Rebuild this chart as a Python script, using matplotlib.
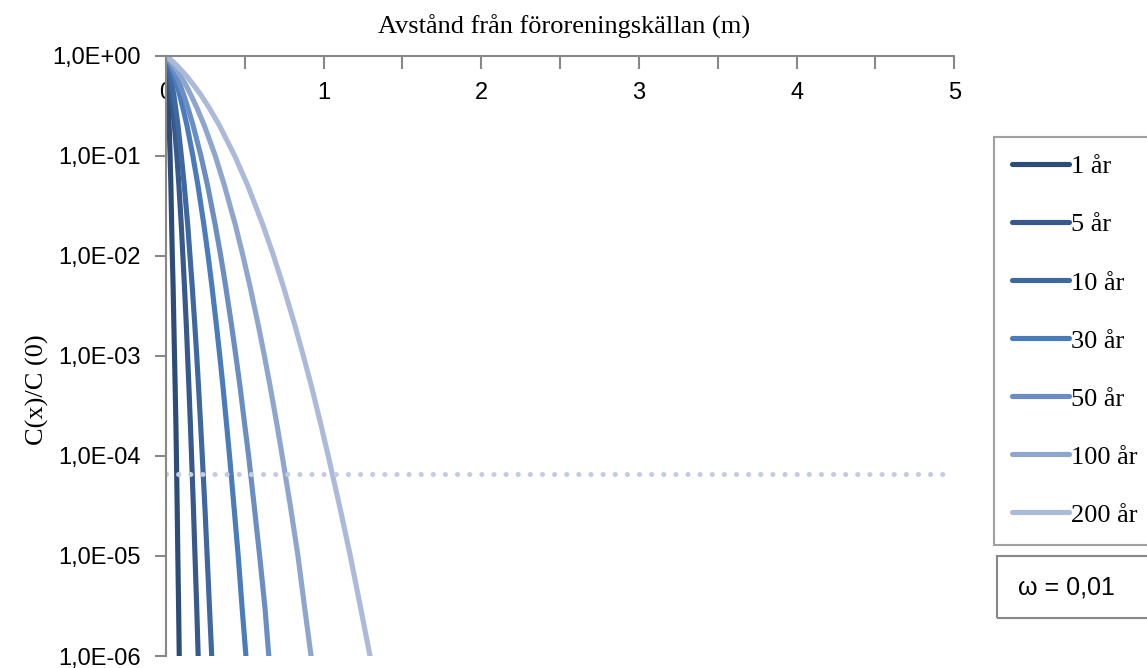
import matplotlib
matplotlib.use("Agg")
import matplotlib.pyplot as plt
from matplotlib.patches import Rectangle

# concentration ratio levels C(x)/C(0) at which each curve was sampled
ratio = [1, 0.9, 0.8, 0.7, 0.6, 0.5, 0.4, 0.3, 0.2, 0.1, 0.05, 0.02,
         1e-2, 5e-3, 2e-3, 1e-3, 5e-4, 2e-4, 1e-4, 3e-5, 1e-5, 3e-6, 1e-6, 5e-7]

# distance from the source (m) reaching each ratio level, per time
x_1 = [0, 0.002, 0.004, 0.006, 0.008, 0.010, 0.013, 0.016, 0.020, 0.026, 0.031, 0.036,
       0.040, 0.045, 0.050, 0.054, 0.058, 0.063, 0.066, 0.071, 0.075, 0.080, 0.084, 0.087]
x_5 = [0, 0.005, 0.011, 0.016, 0.022, 0.028, 0.035, 0.043, 0.053, 0.069, 0.082, 0.097,
       0.107, 0.117, 0.129, 0.137, 0.145, 0.155, 0.162, 0.174, 0.184, 0.195, 0.204, 0.209]
x_10 = [0, 0.007, 0.015, 0.023, 0.031, 0.040, 0.050, 0.061, 0.076, 0.097, 0.116, 0.138,
        0.152, 0.166, 0.183, 0.195, 0.206, 0.220, 0.230, 0.247, 0.261, 0.276, 0.290, 0.297]
x_30 = [0, 0.013, 0.026, 0.040, 0.054, 0.070, 0.087, 0.107, 0.133, 0.170, 0.203, 0.241,
        0.267, 0.291, 0.320, 0.341, 0.361, 0.385, 0.403, 0.432, 0.458, 0.483, 0.507, 0.520]
x_50 = [0, 0.017, 0.034, 0.052, 0.071, 0.091, 0.113, 0.139, 0.172, 0.221, 0.264, 0.313,
        0.347, 0.378, 0.416, 0.443, 0.469, 0.500, 0.524, 0.561, 0.594, 0.628, 0.652, 0.670]
x_100 = [0, 0.024, 0.048, 0.073, 0.099, 0.128, 0.159, 0.196, 0.243, 0.312, 0.371, 0.441,
         0.488, 0.532, 0.586, 0.624, 0.660, 0.705, 0.737, 0.791, 0.837, 0.880, 0.920, 0.944]
x_200 = [0, 0.033, 0.067, 0.102, 0.139, 0.178, 0.223, 0.274, 0.339, 0.435, 0.519, 0.616,
         0.682, 0.743, 0.818, 0.871, 0.922, 0.984, 1.029, 1.104, 1.169, 1.235, 1.294, 1.328]

labels = ["1 år", "5 år", "10 år", "30 år", "50 år", "100 år", "200 år"]
colors = ["#2C4D77", "#37598C", "#3F67A0", "#4A7BBA", "#6A8DC2", "#8EA6CE", "#AABAD8"]

limit_value = 6.6e-5
limit_x = [0, 5]

y_ticks = [1, 1e-1, 1e-2, 1e-3, 1e-4, 1e-5, 1e-6]
y_ticklabels = ["1,0E+00", "1,0E-01", "1,0E-02", "1,0E-03", "1,0E-04", "1,0E-05", "1,0E-06"]
x_ticks = [0, 0.5, 1, 1.5, 2, 2.5, 3, 3.5, 4, 4.5, 5]
x_ticklabels = ["0", "", "1", "", "2", "", "3", "", "4", "", "5"]

serif = "Liberation Serif"
sans = "Liberation Sans"
grey = "#888888"

fig = plt.figure(figsize=(11.47, 6.68), dpi=100)
ax = fig.add_axes([166 / 1147, 1 - 656 / 668, (954.3 - 166) / 1147, (656 - 55.5) / 668])

series = [x_1, x_5, x_10, x_30, x_50, x_100, x_200]
for xs, lab, col in zip(series, labels, colors):
    ax.plot(xs, ratio, color=col, lw=3.7, label=lab, solid_capstyle="butt")

ax.plot(limit_x, [limit_value, limit_value], color="#C3CCE0", lw=3.7,
        linestyle=(0, (0.01, 2.35)), dash_capstyle="round")

ax.set_yscale("log")
ax.set_ylim(1e-6, 1)
ax.set_xlim(0, 5)

# x axis runs along the top (y = 1), labels below it
ax.spines["bottom"].set_position(("data", 1))
ax.spines["top"].set_visible(False)
ax.spines["right"].set_visible(False)
for s in ("bottom", "left"):
    ax.spines[s].set_color(grey)
    ax.spines[s].set_linewidth(1.5)

ax.set_xticks(x_ticks)
ax.set_xticklabels(x_ticklabels, fontfamily=sans, fontsize=17)
ax.set_yticks(y_ticks)
ax.set_yticklabels(y_ticklabels, fontfamily=sans, fontsize=17)
ax.yaxis.set_minor_locator(matplotlib.ticker.NullLocator())
ax.tick_params(axis="x", direction="out", length=9, width=1.5, color=grey, pad=10)
ax.tick_params(axis="y", direction="out", length=8, width=1.5, color=grey, pad=10)

fig.text(564 / 1147, 1 - 27 / 668, "Avstånd från föroreningskällan (m)",
         fontfamily=serif, fontsize=19, ha="center", va="center")
fig.text(37 / 1147, 1 - 390 / 668, "C(x)/C (0)", fontfamily=serif, fontsize=19,
         rotation=90, ha="center", va="center")

leg = fig.legend(loc="upper left", bbox_to_anchor=(994 / 1147, 1 - 137 / 668),
                 prop={"family": serif, "size": 19}, handlelength=2.15,
                 handletextpad=0.1, labelspacing=1.31, borderpad=0.68,
                 borderaxespad=0, fancybox=False, frameon=True)
leg.get_frame().set_edgecolor(grey)
leg.get_frame().set_linewidth(1.5)
for line in leg.get_lines():
    line.set_solid_capstyle("round")

fig.add_artist(Rectangle((997 / 1147, 1 - 618 / 668), 200 / 1147, 62 / 668,
                         transform=fig.transFigure, fill=False,
                         edgecolor=grey, linewidth=1.5))
fig.text(1018 / 1147, 1 - 587 / 668, "ω = 0,01", fontfamily=sans, fontsize=18,
         ha="left", va="center")

fig.savefig("out.png", dpi=100)
